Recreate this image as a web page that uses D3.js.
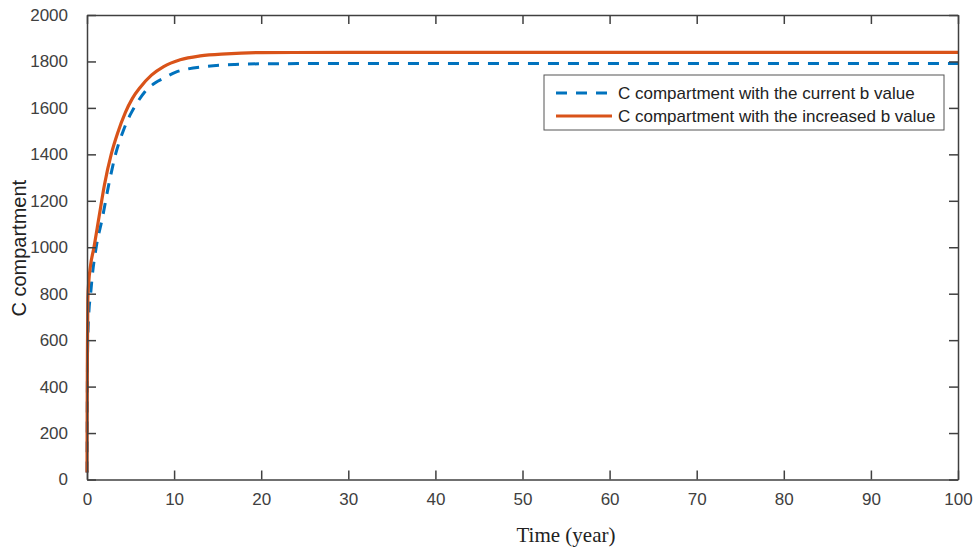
<!DOCTYPE html>
<html>
<head>
<meta charset="utf-8">
<script src="https://cdn.jsdelivr.net/npm/d3@7"></script>
<style>
  html, body { margin: 0; padding: 0; background: #fff; }
  svg { display: block; }
</style>
</head>
<body>
<svg id="chart" width="977" height="549"></svg>
<script>
// Time points (years) and C compartment values for each scenario
const timeCurrent = [0, 0.03, 0.07, 0.2, 0.42, 0.6, 1.07, 1.76, 2.5, 3.3, 4.2, 5.0, 5.8, 6.67, 7.8, 8.97, 10.2, 11.5, 13.8, 17, 20, 30, 50, 100];
const valueCurrent = [30, 300, 560, 709, 800, 875, 1003, 1125, 1270, 1403, 1505, 1573, 1625, 1671, 1707, 1731, 1754, 1767, 1779, 1787, 1790, 1791, 1791, 1791];

const timeIncreased = [0, 0.02, 0.05, 0.1, 0.2, 0.4, 0.8, 1.38, 2.0, 2.8, 3.5, 4.4, 5.2, 6.1, 7.4, 8.8, 10.7, 13, 16, 20, 30, 50, 100];
const valueIncreased = [30, 300, 560, 780, 850, 920, 1000, 1130, 1268, 1403, 1490, 1580, 1640, 1688, 1741, 1778, 1807, 1824, 1833, 1838, 1839, 1839, 1839];

const xTicks = [0, 10, 20, 30, 40, 50, 60, 70, 80, 90, 100];
const yTicks = [0, 200, 400, 600, 800, 1000, 1200, 1400, 1600, 1800, 2000];

const seriesNames = ["C compartment with the current b value", "C compartment with the increased b value"];

const svg = d3.select("#chart");
const plotLeft = 87, plotRight = 958, plotTop = 15, plotBottom = 479.5;
const axisColor = "#404040";
const sansFont = "'Liberation Sans', Arial, Helvetica, sans-serif";
const serifFont = "'Liberation Serif', 'Times New Roman', serif";

const x = d3.scaleLinear().domain([0, 100]).range([plotLeft, plotRight]);
const y = d3.scaleLinear().domain([0, 2000]).range([plotBottom, plotTop]);

const line = d3.line()
  .x(d => x(d[0]))
  .y(d => y(d[1]))
  .curve(d3.curveMonotoneX);

const currentData = timeCurrent.map((t, i) => [t, valueCurrent[i]]);
const increasedData = timeIncreased.map((t, i) => [t, valueIncreased[i]]);

// Curves
svg.append("path")
  .datum(currentData)
  .attr("d", line)
  .attr("fill", "none")
  .attr("stroke", "#0072BD")
  .attr("stroke-width", 3)
  .attr("stroke-dasharray", "11,9");

svg.append("path")
  .datum(increasedData)
  .attr("d", line)
  .attr("fill", "none")
  .attr("stroke", "#D95319")
  .attr("stroke-width", 3.2);

// Axes box with inward ticks on all four sides
const tickLen = 9;
const fmt = d3.format("d");
const styleAxis = g => {
  g.selectAll(".domain").attr("stroke", axisColor).attr("stroke-width", 1.5);
  g.selectAll(".tick line").attr("stroke", axisColor).attr("stroke-width", 1.5);
  g.selectAll("text").attr("fill", axisColor).style("font-family", sansFont).style("font-size", "17px");
};

svg.append("g")
  .attr("transform", `translate(0,${plotBottom})`)
  .call(d3.axisBottom(x).tickValues(xTicks).tickFormat(fmt).tickSize(-tickLen).tickSizeOuter(0).tickPadding(13))
  .call(styleAxis);

svg.append("g")
  .attr("transform", `translate(0,${plotTop})`)
  .call(d3.axisTop(x).tickValues(xTicks).tickSize(-tickLen).tickSizeOuter(0).tickFormat(""))
  .call(styleAxis);

svg.append("g")
  .attr("transform", `translate(${plotLeft},0)`)
  .call(d3.axisLeft(y).tickValues(yTicks).tickFormat(fmt).tickSize(-tickLen).tickSizeOuter(0).tickPadding(19))
  .call(styleAxis);

svg.append("g")
  .attr("transform", `translate(${plotRight},0)`)
  .call(d3.axisRight(y).tickValues(yTicks).tickSize(-tickLen).tickSizeOuter(0).tickFormat(""))
  .call(styleAxis);

// Axis titles
svg.append("text")
  .attr("x", 566)
  .attr("y", 542)
  .attr("text-anchor", "middle")
  .style("font-family", serifFont)
  .style("font-size", "21px")
  .attr("fill", "#222")
  .text("Time (year)");

svg.append("text")
  .attr("transform", `translate(26,${(plotTop + plotBottom) / 2 + 1}) rotate(-90)`)
  .attr("text-anchor", "middle")
  .style("font-family", sansFont)
  .style("font-size", "20px")
  .attr("fill", "#222")
  .text("C compartment");

// Legend
const legend = svg.append("g");
legend.append("rect")
  .attr("x", 544).attr("y", 75)
  .attr("width", 400).attr("height", 55)
  .attr("fill", "#fff")
  .attr("stroke", "#555")
  .attr("stroke-width", 1);

const legendStyles = [
  { color: "#0072BD", dash: "11,9", width: 3 },
  { color: "#D95319", dash: null, width: 3.2 }
];
seriesNames.forEach((name, i) => {
  const ly = 93 + i * 23;
  legend.append("line")
    .attr("x1", 556).attr("x2", 612)
    .attr("y1", ly).attr("y2", ly)
    .attr("stroke", legendStyles[i].color)
    .attr("stroke-width", legendStyles[i].width)
    .attr("stroke-dasharray", legendStyles[i].dash);
  legend.append("text")
    .attr("x", 618).attr("y", ly)
    .attr("dy", "0.35em")
    .style("font-family", sansFont)
    .style("font-size", "17px")
    .attr("fill", "#222")
    .text(name);
});
</script>
</body>
</html>
